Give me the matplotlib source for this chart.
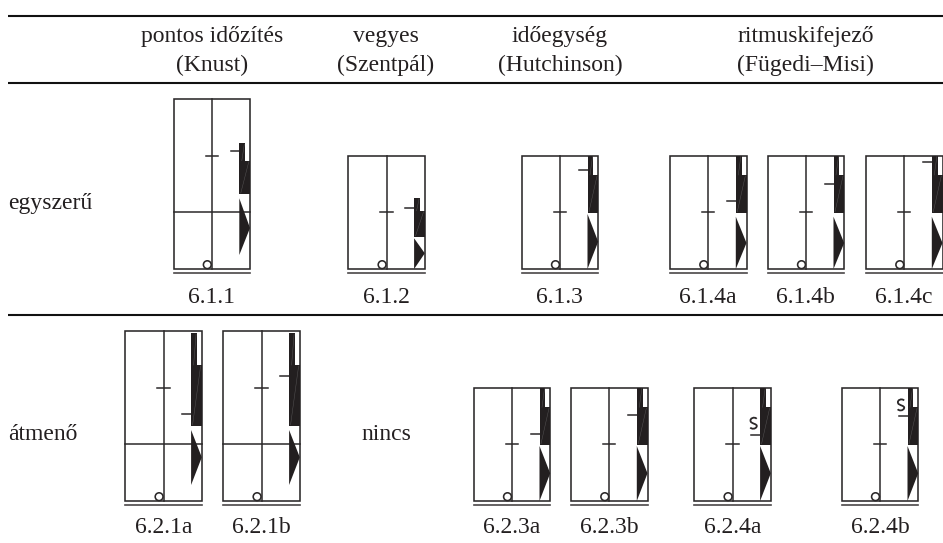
import matplotlib
matplotlib.use("Agg")
import matplotlib.pyplot as plt
from matplotlib.path import Path
from matplotlib.patches import PathPatch, Polygon, Rectangle, Circle

plt.rcParams['font.family'] = ['Liberation Serif', 'DejaVu Serif']

INK = "#2b2829"
TEXT_SIZE = 17

# column and row headers
head_top = ["pontos időzítés", "vegyes", "időegység", "ritmuskifejező"]
head_bottom = ["(Knust)", "(Szentpál)", "(Hutchinson)", "(Fügedi–Misi)"]
head_x = [212, 386, 560, 805.5]
row_names = ["egyszerű", "átmenő"]
row_name_y = [208.5, 440]
empty_cell = "nincs"

# one entry per staff diagram
labels = ["6.1.1", "6.1.2", "6.1.3", "6.1.4a", "6.1.4b", "6.1.4c",
          "6.2.1a", "6.2.1b", "6.2.3a", "6.2.3b", "6.2.4a", "6.2.4b"]
lefts = [173.5, 348.3, 521.7, 670, 767.7, 866, 125.3, 223.3, 473.7, 571, 694.3, 841.7]
tops = [98.7, 155.7, 155.7, 155.7, 155.7, 155.7, 330.7, 330.7, 387.7, 387.7, 387.7, 387.7]
bottoms = [269, 269, 269, 269, 269, 269, 501, 501, 501, 501, 501, 501]
label_y = [303.3] * 6 + [533.3] * 6
bars = [212.3, None, None, None, None, None, 444, 444, None, None, None, None]
ticks = [155.7, 212.3, 212.3, 212.3, 212.3, 212.3, 387.7, 387.7, 444, 444, 444.3, 444.3]
dashes = [151, 207.7, 170, 200.7, 184, 162, 413.7, 375.7, 434.3, 415, 435, 416]
narrow_top = [143.3, 197.7, 155.7, 155.7, 155.7, 155.7, 333, 333, 387.7, 387.7, 387.7, 387.7]
wide_top = [160.7, 210.7, 175, 175, 175, 175, 365, 365, 407.3, 407.3, 407.3, 407.3]
wide_bottom = [194, 236.7, 212.7, 212.7, 212.7, 212.7, 425.7, 425.7, 444.7, 444.7, 444.7, 444.7]
tri_top = [198.3, 238.3, 214, 216.7, 216.7, 216.7, 430, 430, 446, 446, 446, 446]
tri_bottom = [255, 269, 269, 269, 269, 269, 485, 485, 501, 501, 501, 501]
tri_tip = [228, 253.3, 241.7, 243, 243, 243, 457.3, 457.3, 473.3, 473.3, 473.3, 473.3]
curls = [None, None, None, None, None, None, None, None, None, None, 423.3, 405]

fig = plt.figure(figsize=(9.43, 5.43), dpi=100)
ax = fig.add_axes([0, 0, 1, 1])
ax.set_xlim(0, 943)
ax.set_ylim(543, 0)
ax.axis("off")


def curl(x, y):
    verts = [(x + 3.2, y - 4.5), (x + 1, y - 7), (x - 4.2, y - 5), (x - 2.8, y - 1.8),
             (x - 2, y + 0.5), (x + 4.2, y + 0.5), (x + 3.2, y + 3.2),
             (x + 2.2, y + 6), (x - 2, y + 6), (x - 3.2, y + 4.2)]
    codes = [Path.MOVETO] + [Path.CURVE4] * 9
    ax.add_patch(PathPatch(Path(verts, codes), fc="none", ec=INK, lw=1.3, zorder=5))


def staff(i):
    l = lefts[i]
    r = l + 76.5
    m = l + 38.2
    t = tops[i]
    b = bottoms[i]
    block = l + 65.8
    ax.add_patch(Rectangle((l, t), 76.5, b - t, fc="white", ec=INK, lw=1.15, zorder=1))
    ax.plot([m, m], [t, b], color=INK, lw=1.1, zorder=2)
    ax.plot([l, r], [b + 3.8, b + 3.8], color="#4a4748", lw=1.2, zorder=2)
    if bars[i] is not None:
        ax.plot([l, r], [bars[i], bars[i]], color=INK, lw=1.1, zorder=2)
    ax.plot([m - 6.2, m + 6.2], [ticks[i], ticks[i]], color=INK, lw=1.1, zorder=3)
    ax.plot([block - 8.7, block], [dashes[i], dashes[i]], color=INK, lw=1.1, zorder=3)

    # support column: narrow part, wide part, then the triangle
    ax.add_patch(Rectangle((block, narrow_top[i]), 5.8, wide_top[i] - narrow_top[i],
                           fc="#231f20", ec="none", zorder=3))
    ax.add_patch(Rectangle((block, wide_top[i]), 10.7, wide_bottom[i] - wide_top[i],
                           fc="#231f20", ec="none", zorder=3))
    ax.plot([block + 5, block + 2.5], [narrow_top[i] + 1, wide_top[i]],
            color="#555354", lw=0.35, zorder=4)
    ax.plot([block + 9.5, block + 1.5], [wide_top[i] + 1, wide_bottom[i] - 1],
            color="#555354", lw=0.35, zorder=4)
    ax.add_patch(Polygon([(block, tri_top[i]), (r, tri_tip[i]), (block, tri_bottom[i])],
                         closed=True, fc="#231f20", ec="none", zorder=3))

    ax.add_patch(Circle((m - 4.4, b - 4.3), 3.9, fc="white", ec=INK, lw=1.15, zorder=4))
    if curls[i] is not None:
        curl(block - 6.6, curls[i])
    ax.text(m, label_y[i], labels[i], ha="center", va="baseline",
            fontsize=TEXT_SIZE, color="#231f20")


for k in [15.7, 83.3, 314.7]:
    ax.plot([8, 943], [k, k], color="#111111", lw=1.5, solid_capstyle="butt")

for x, a, c in zip(head_x, head_top, head_bottom):
    ax.text(x, 42, a, ha="center", va="baseline", fontsize=TEXT_SIZE, color="#231f20")
    ax.text(x, 71, c, ha="center", va="baseline", fontsize=TEXT_SIZE, color="#231f20")

for name, y in zip(row_names, row_name_y):
    ax.text(8, y, name, ha="left", va="baseline", fontsize=TEXT_SIZE, color="#231f20")
ax.text(361, 440, empty_cell, ha="left", va="baseline", fontsize=TEXT_SIZE, color="#231f20")

for i in range(len(labels)):
    staff(i)

fig.savefig("out.png", dpi=100)
